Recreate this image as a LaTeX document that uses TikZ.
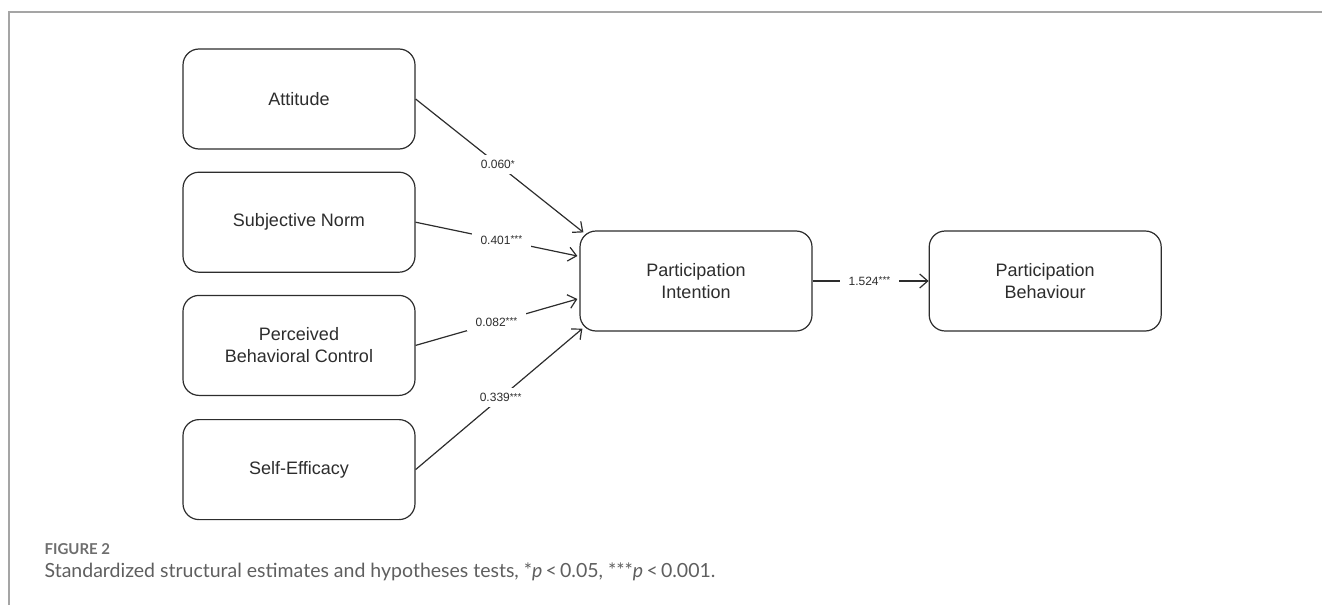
\documentclass[tikz,border=0pt]{standalone}
\usepackage{fontspec}
\setmainfont{Liberation Sans}
\newfontfamily\capfont{Lato}
\usetikzlibrary{arrows.meta,positioning}
\definecolor{ink}{RGB}{45,45,45}
\definecolor{rule}{RGB}{165,165,165}
\definecolor{capgray}{RGB}{110,110,110}
\definecolor{capdark}{RGB}{95,95,95}
\tikzset{
  every picture/.style={color=ink, line width=1.2pt},
  box/.style={draw=ink, rounded corners=16pt, fill=white, minimum width=232pt, minimum height=100pt, align=center, font=\fontsize{18}{22}\selectfont, inner sep=0pt},
  flow/.style={-{Straight Barb[length=8pt,width=14pt,line width=1.2pt]}, line width=1.2pt},
  lbl/.style={font=\fontsize{12}{14}\selectfont, fill=white, inner xsep=9pt, inner ysep=5pt},
  frame/.style={draw=rule, line width=1.5pt},
  captext/.style={font=\capfont\fontsize{19.5}{23}\selectfont, text=capdark, anchor=base west, inner sep=0pt},
  fignum/.style={font=\capfont\bfseries\fontsize{15}{18}\selectfont, text=capgray, anchor=base west, inner sep=0pt},
}
\newcommand{\sig}[1]{\raisebox{1.5pt}{\fontsize{10}{10}\selectfont #1}}

\begin{document}
\begin{tikzpicture}[x=1pt,y=1pt]
  \useasboundingbox (0,0) rectangle (1322,-605);
  % frame
  \draw[frame] (9,-605) -- (9,-12) -- (1322,-12);
  % predictors
  \node[box] (att) at (299,-99) {Attitude};
  \node[box, below=22pt of att] (sn) {Subjective Norm};
  \node[box, below=22pt of sn] (pbc) {Perceived\\Behavioral Control};
  \node[box, below=23pt of pbc] (se) {Self-Efficacy};
  % outcomes
  \node[box] (pi) at (696,-281) {Participation\\Intention};
  \node[box, right=116pt of pi] (pb) {Participation\\Behaviour};
  % paths
  \draw[flow] (att.east) -- node[lbl, pos=0.49] {0.060\sig{*}} ([shift={(4,-2)}]pi.north west);
  \draw[flow] (sn.east) -- node[lbl, pos=0.53] {0.401\sig{***}} ([shift={(-2,25)}]pi.west);
  \draw[flow] (pbc.east) -- node[lbl, pos=0.5] {0.082\sig{***}} ([shift={(-2,-18)}]pi.west);
  \draw[flow] (se.east) -- node[lbl, pos=0.51] {0.339\sig{***}} ([shift={(3,3)}]pi.south west);
  \draw[flow] (pi) -- node[lbl, pos=0.49] {1.524\sig{***}} (pb);
  % caption
  \node[fignum] (fignum) at (44,-554) {FIGURE 2};
  \node[captext] (figcap) at (44,-577) {Standardized structural estimates and hypotheses tests, *\textit{p}\,<\,0.05, ***\textit{p}\,<\,0.001.};
\end{tikzpicture}
\end{document}
